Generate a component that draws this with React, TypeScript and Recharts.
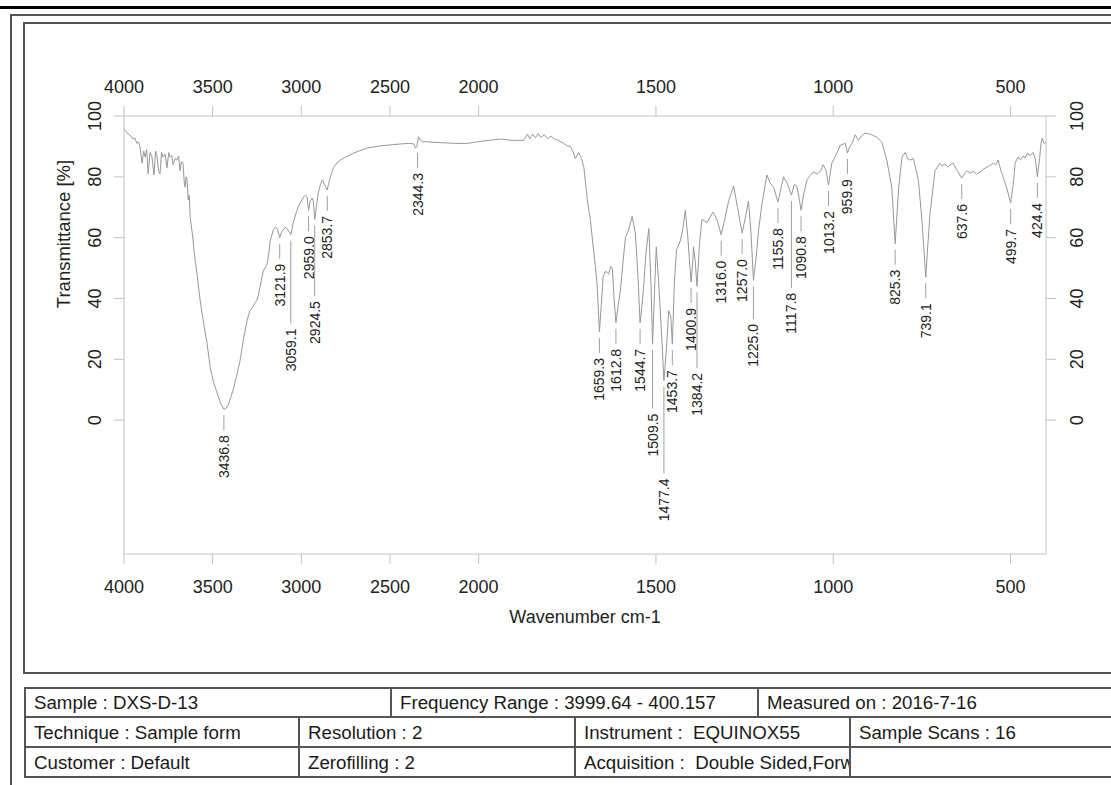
import React from "react";
import { ComposedChart, Line, Scatter, XAxis, YAxis } from "recharts";

// IR spectrum (wavenumber cm-1 -> transmittance %)
const waveNumbers = [
  4000, 3990, 3975, 3962, 3950, 3938, 3928, 3918, 3910, 3898, 3889, 3881, 3872, 3864, 3853, 3842,
  3831, 3822, 3814, 3805, 3797, 3788, 3780, 3768, 3757, 3748, 3740, 3731, 3723, 3712, 3701, 3692,
  3684, 3676, 3667, 3660, 3655, 3650, 3644, 3638, 3632, 3627, 3612, 3600, 3588, 3571, 3554, 3531,
  3514, 3495, 3475, 3455, 3437, 3425, 3412, 3398, 3384, 3365, 3345, 3325, 3305, 3290, 3277, 3262,
  3249, 3232, 3215, 3200, 3192, 3183, 3175, 3165, 3158, 3145, 3136, 3121.9, 3110, 3090, 3075,
  3059.1, 3045, 3030, 3015, 3000, 2985, 2977, 2968, 2959, 2950, 2940, 2932, 2924.5, 2915, 2905,
  2892, 2881, 2870, 2853.7, 2845, 2836, 2819, 2800, 2780, 2750, 2706, 2660, 2627, 2550, 2480, 2441,
  2390, 2365, 2356, 2349, 2339, 2330, 2317, 2300, 2271, 2200, 2130, 2062, 2030, 2000, 1970, 1938,
  1905, 1873, 1862, 1856, 1848, 1840, 1832, 1825, 1815, 1805, 1795, 1789, 1775, 1760, 1750, 1741,
  1735, 1727, 1718, 1710, 1703, 1693, 1685, 1675, 1666, 1659.3, 1654, 1649, 1642, 1633, 1628, 1623,
  1618, 1612.8, 1606, 1600, 1593, 1586, 1577, 1567, 1558, 1551, 1544.7, 1539, 1534, 1528, 1520,
  1514, 1509.5, 1504, 1499, 1492, 1484, 1477.4, 1470, 1464, 1458, 1453.7, 1448, 1442, 1431, 1424,
  1417, 1410, 1400.9, 1396, 1394, 1389, 1384.2, 1377, 1370, 1356, 1339, 1328, 1316, 1308, 1295,
  1281, 1270, 1257, 1249, 1239, 1232, 1225, 1217, 1210, 1201, 1187, 1178, 1168, 1155.8, 1148, 1140,
  1130, 1117.8, 1110, 1103, 1096, 1090.8, 1082, 1074, 1065, 1056, 1045, 1035, 1028, 1020, 1013.2,
  1004, 995, 980, 966, 959.9, 953, 947, 938, 929, 920, 910, 895, 877, 863, 849, 835, 825.3, 816,
  806, 797, 790, 783, 774, 760, 750, 739.1, 733, 727, 713, 699, 692, 685, 677, 670, 662, 650, 637.6,
  630, 623, 614, 605, 596, 586, 578, 570, 560, 548, 542, 535, 527, 521, 510, 499.7, 492, 487, 479,
  472, 465, 458, 453, 445, 437, 430, 424.4, 418, 414, 411, 405, 400,
];
const transmittance = [
  95.7, 95, 94, 93.5, 92.5, 92.8, 91, 91.5, 90, 84.5, 88.5, 86.5, 89, 81, 88, 86.5,
  80.6, 88.5, 87, 82, 81, 88, 86.5, 87.5, 83, 88, 86.5, 87, 84, 86, 85.5, 86.8,
  82, 85, 84.5, 78, 76.6, 80, 79, 72.4, 74, 67, 60, 53, 48, 39.5, 33, 25,
  17.4, 12.5, 9, 5.5, 3.6, 3.8, 5, 7.5, 10, 14.5, 19.7, 27, 33, 36, 37, 38.5,
  39.5, 44, 49, 50.5, 51.6, 55, 59, 61, 62.5, 63.5, 63, 60, 62, 63.5, 62.5,
  61, 65, 68, 70.5, 72, 73.5, 74, 73.5, 69, 72, 73, 72, 66, 70, 74.6,
  77.5, 79, 77.5, 75.7, 78, 80, 83, 84.5, 85.5, 86.5, 87.8, 88.8, 89.5, 90.2, 90.6, 90.8,
  91, 90.8, 89.4, 89.8, 93.2, 92, 91.5, 91.6, 91.4, 91.2, 91, 91, 91.3, 91.6, 92, 92.4,
  92, 92, 94, 92.5, 94, 92.8, 94.2, 93, 93.8, 92.6, 93.4, 92.6, 92, 91, 90.2, 90,
  88.5, 86, 88, 86, 83, 72, 66, 55, 45, 29, 38, 47, 49, 48, 50.6, 50,
  40, 32, 38, 42.8, 52, 60, 62.5, 67, 61.5, 48, 32, 38, 45, 55, 63,
  45, 25, 42, 57, 45, 28, 13, 24, 36, 34, 25, 45, 56, 59, 63,
  69, 60, 45.4, 52, 57, 52, 44, 58, 66, 65, 68.4, 66, 61, 65, 72,
  77, 70, 61.5, 66, 72, 62, 46, 54, 63, 71, 80.6, 78, 76.6, 71.7, 76, 80,
  78, 74, 77.5, 77, 73, 69, 75, 79, 80.5, 81.6, 81, 82, 84, 82, 77.3,
  84.5, 86.5, 90.4, 91, 87.8, 90, 91, 93.8, 92, 93.5, 94.4, 94, 93, 91.4, 85.5, 76.6, 58, 75.7,
  86.5, 88, 86, 85.5, 86, 79, 66, 47, 58, 68, 82, 84.5, 83.6, 84.2, 83.2, 84, 84.5, 82, 79.6,
  81, 82, 81.2, 81.8, 80.9, 81.6, 82.4, 83, 83.6, 84.5, 83.9, 85.5, 82, 80, 76, 71.4, 78, 84.5, 86.5,
  85.6, 86.8, 86.2, 87.8, 87, 88, 86, 80, 86, 91, 92.7, 91, 91.4,
];
const peakWaveNumbers = [
  3436.8, 3121.9, 3059.1, 2959.0, 2924.5, 2853.7, 2344.3, 1659.3, 1612.8, 1544.7, 1509.5,
  1477.4, 1453.7, 1400.9, 1384.2, 1316.0, 1257.0, 1225.0, 1155.8, 1117.8, 1090.8, 1013.2,
  959.9, 825.3, 739.1, 637.6, 499.7, 424.4,
];
const xTickLabels = [4000, 3500, 3000, 2500, 2000, 1500, 1000, 500];
const yTicks = [0, 20, 40, 60, 80, 100];

const infoRow1 = ["Sample : DXS-D-13", "Frequency Range : 3999.64 - 400.157", "Measured on : 2016-7-16"];
const infoRow2 = ["Technique : Sample form", "Resolution : 2", "Instrument :  EQUINOX55", "Sample Scans : 16"];
const infoRow3 = ["Customer : Default", "Zerofilling : 2", "Acquisition :  Double Sided,Forward-Backward", ""];

// the axis is compressed 2:1 above 2000 cm-1, like the OPUS printout
const toAxis = (wn: number) => (wn >= 2000 ? (4000 - wn) / 2 : 1000 + (2000 - wn));
const fromAxis = (p: number) => (p <= 1000 ? 4000 - 2 * p : 2000 - (p - 1000));
const AXIS_END = toAxis(400);

const W = 1111;
const H = 785;
const PLOT_W = 922;
const PLOT_H = 438;
const Y_MIN = -44;
const Y_MAX = 100;
const FONT = "'Liberation Sans', Arial, Helvetica, sans-serif";
const LABEL_FONT = 14;

const spectrum = waveNumbers.map((wn, i) => ({ pos: toAxis(wn), t: transmittance[i] }));

const labelLen = (s: string) =>
  s.split("").reduce((w, c) => w + (c === "." ? 0.278 : 0.556) * LABEL_FONT, 0);

// peak labels: drop a label below the curve, push it down when it would hit a neighbour
const peaks = (() => {
  const placed: { x: number; start: number; end: number }[] = [];
  return peakWaveNumbers.map((wn) => {
    let best = 0;
    waveNumbers.forEach((w, i) => {
      if (Math.abs(w - wn) < Math.abs(waveNumbers[best] - wn)) best = i;
    });
    const t = transmittance[best];
    const x = (toAxis(wn) * PLOT_W) / AXIS_END;
    const cy = ((Y_MAX - t) * PLOT_H) / (Y_MAX - Y_MIN);
    const label = wn.toFixed(1);
    const len = labelLen(label);
    let start = cy + 26;
    let moved = true;
    while (moved) {
      moved = false;
      for (const p of placed) {
        if (Math.abs(p.x - x) < 14 && start < p.end + 10 && start + len > p.start - 10) {
          start = p.end + 22;
          moved = true;
        }
      }
    }
    placed.push({ x, start, end: start + len });
    return { pos: toAxis(wn), t, label, drop: start - cy };
  });
})();

const PeakMark = (props: any) => {
  const { cx, cy, payload } = props;
  const ty = cy + payload.drop;
  return (
    <g>
      <line x1={cx} x2={cx} y1={cy + 6} y2={ty - 5} stroke="#a0a0a0" strokeWidth={1} />
      <text
        x={cx}
        y={ty}
        transform={`rotate(-90 ${cx} ${ty})`}
        textAnchor="end"
        dominantBaseline="central"
        fontSize={LABEL_FONT}
        fill="#222"
      >
        {payload.label}
      </text>
    </g>
  );
};

const YTick = (props: any) => {
  const { x, y, payload } = props;
  return (
    <text x={x} y={y} transform={`rotate(-90 ${x} ${y})`} textAnchor="middle" fontSize={18} fill="#222">
      {payload.value}
    </text>
  );
};

const line = "#555";
const rowTop = [687, 716, 746];
const rowH = [29, 30, 30];
const cols3 = [24, 390, 757, 1300];
const cols4 = [24, 298, 574, 849, 1300];

function Cells({ texts, cols, top, h }: { texts: string[]; cols: number[]; top: number; h: number }) {
  return (
    <>
      {texts.map((t, i) => (
        <div
          key={i}
          style={{
            position: "absolute",
            left: cols[i],
            top,
            width: cols[i + 1] - cols[i],
            height: h,
            boxSizing: "border-box",
            borderLeft: `2px solid ${line}`,
            borderTop: `2px solid ${line}`,
            paddingLeft: 8,
            fontSize: 18.7,
            lineHeight: `${h - 1}px`,
            color: "#1a1a1a",
            whiteSpace: "pre",
            overflow: "hidden",
          }}
        >
          {t}
        </div>
      ))}
    </>
  );
}

export default function App() {
  const axisStroke = "#c2c2c2";
  return (
    <div
      style={{
        position: "absolute",
        left: 0,
        top: 0,
        width: W,
        height: H,
        overflow: "hidden",
        background: "#fff",
        fontFamily: FONT,
      }}
    >
      <div style={{ position: "absolute", left: 0, top: 6, width: W, height: 3, background: "#000" }} />
      <div
        style={{ position: "absolute", left: 10, top: 14, width: 1300, height: 900, border: `2px solid ${line}` }}
      />
      <div
        style={{ position: "absolute", left: 23, top: 22, width: 1300, height: 648, border: `2px solid ${line}` }}
      />
      <div
        style={{ position: "absolute", left: 24, top: 776, width: 1300, height: 2, background: line }}
      />
      <Cells texts={infoRow1} cols={cols3} top={rowTop[0]} h={rowH[0]} />
      <Cells texts={infoRow2} cols={cols4} top={rowTop[1]} h={rowH[1]} />
      <Cells texts={infoRow3} cols={cols4} top={rowTop[2]} h={rowH[2]} />

      <div style={{ position: "absolute", left: 0, top: 0 }}>
        <ComposedChart
          width={W}
          height={H}
          data={spectrum}
          margin={{ top: 80, right: 5, bottom: 151, left: 60 }}
        >
          <XAxis
            xAxisId="bottom"
            dataKey="pos"
            type="number"
            domain={[0, AXIS_END]}
            allowDataOverflow
            ticks={xTickLabels.map(toAxis)}
            tickFormatter={(v: number) => String(Math.round(fromAxis(v)))}
            height={80}
            tickSize={10}
            tickMargin={16}
            stroke={axisStroke}
            tick={{ fill: "#222", fontSize: 18 }}
            label={{ value: "Wavenumber cm-1", position: "insideBottom", offset: 11, fill: "#222", fontSize: 18 }}
          />
          <XAxis
            xAxisId="top"
            orientation="top"
            dataKey="pos"
            type="number"
            domain={[0, AXIS_END]}
            allowDataOverflow
            ticks={xTickLabels.map(toAxis)}
            tickFormatter={(v: number) => String(Math.round(fromAxis(v)))}
            height={36}
            tickSize={10}
            tickMargin={13}
            stroke={axisStroke}
            tick={{ fill: "#222", fontSize: 18 }}
          />
          <YAxis
            yAxisId="left"
            type="number"
            domain={[Y_MIN, Y_MAX]}
            allowDataOverflow
            ticks={yTicks}
            width={64}
            tickSize={10}
            tickMargin={13}
            stroke={axisStroke}
            tick={<YTick />}
          />
          <YAxis
            yAxisId="right"
            orientation="right"
            type="number"
            domain={[Y_MIN, Y_MAX]}
            allowDataOverflow
            ticks={yTicks}
            width={60}
            tickSize={10}
            tickMargin={27}
            stroke={axisStroke}
            tick={<YTick />}
          />
          <Line
            xAxisId="bottom"
            yAxisId="left"
            type="linear"
            dataKey="t"
            stroke="#979797"
            strokeWidth={1}
            dot={false}
            activeDot={false}
            isAnimationActive={false}
          />
          <Scatter
            xAxisId="bottom"
            yAxisId="left"
            data={peaks}
            dataKey="t"
            shape={PeakMark}
            isAnimationActive={false}
          />
        </ComposedChart>
      </div>

      <svg width={W} height={H} style={{ position: "absolute", left: 0, top: 0, pointerEvents: "none" }}>
        <text x={70} y={234} transform="rotate(-90 70 234)" textAnchor="middle" fontSize={18.5} fill="#222">
          Transmittance [%]
        </text>
      </svg>
    </div>
  );
}
